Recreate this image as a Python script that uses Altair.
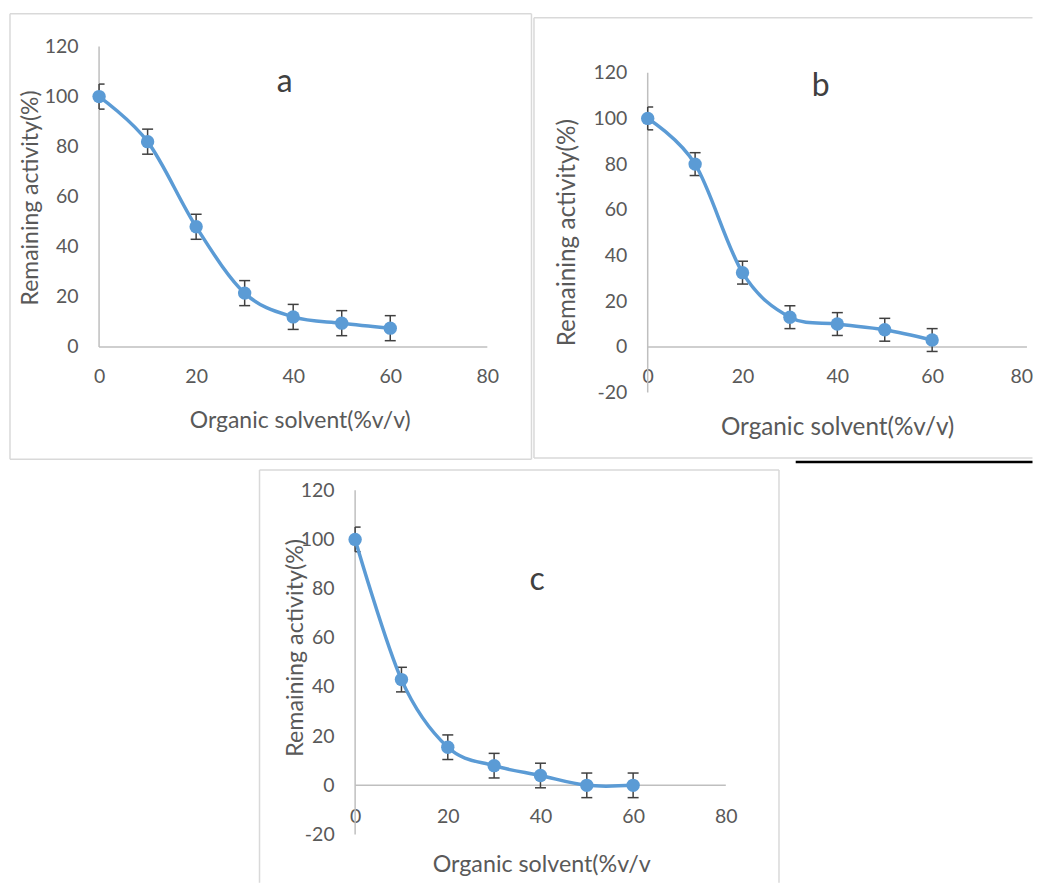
import altair as alt
import pandas as pd

# ---------------- data ----------------
solvent = [0, 10, 20, 30, 40, 50, 60]
activity_a = [100, 82, 48, 21.5, 12, 9.5, 7.5]
activity_b = [100, 80, 32.5, 13, 10, 7.5, 3]
activity_c = [100, 43, 15.5, 8, 4, 0, 0]
error_a = [5, 5, 5, 5, 5, 5, 5]
error_b = [5, 5, 5, 5, 5, 5, 5]
error_c = [5, 5, 5, 5, 5, 5, 5]
x_ticks = [0, 20, 40, 60, 80]
y_ticks_a = [0, 20, 40, 60, 80, 100, 120]
y_ticks_bc = [-20, 0, 20, 40, 60, 80, 100, 120]
x_axis_range = [0, 80]
y_axis_range_a = [0, 120]
y_axis_range_bc = [-20, 120]
panel_letters = ["a", "b", "c"]
x_titles = ["Organic solvent(%v/v)", "Organic solvent(%v/v)", "Organic solvent(%v/v"]
y_title = "Remaining activity(%)"

# ---------------- styles ----------------
FONT = "Lato"
BLUE = "#5B9BD5"
TXT = "#595959"
AXIS_GREY = "#BFBFBF"
FRAME_GREY = "#D9D9D9"
ERR = "#404040"
CAP_HALF_PX = 5.5

# ---------------- layout (page pixels) ----------------
GEOM = {
    "a": dict(L=9.75, T=12.75, W=522.5, H=446.25, x0=99.0, x80=488.0, y0=346.5, y120=45.5,
              xlab=376.0, xtitle=(300.0, 420.0), ytitle=(30.0, 196.7), letter=(285.0, 90.7),
              tsize=23.0, ftop=0.0, edges=("top", "bottom", "left", "right"), flush=None),
    "b": dict(L=533.75, T=12.0, W=499.5, H=445.0, x0=647.7, x80=1027.7, y0=345.7, y120=71.0,
              xlab=375.0, xtitle=(837.5, 426.7), ytitle=(567.7, 230.8), letter=(821.0, 94.0),
              tsize=24.3, ftop=4.0, edges=("top", "bottom", "left"), flush=7),
    "c": dict(L=258.5, T=468.0, W=520.5, H=413.5, x0=354.3, x80=725.7, y0=784.0, y120=488.3,
              xlab=815.0, xtitle=(540.8, 863.3), ytitle=(294.3, 645.8), letter=(536.7, 588.3),
              tsize=23.3, ftop=0.0, edges=("top", "left", "right"), flush=None),
}
SPACER_W = 248.75

one = pd.DataFrame({"k": [0]})


def hrule(x1, x2, y, color, w):
    return alt.Chart(one).mark_rule(color=color, strokeWidth=w).encode(
        x=alt.value(x1), x2=alt.value(x2), y=alt.value(y))


def vrule(x, y1, y2, color, w):
    return alt.Chart(one).mark_rule(color=color, strokeWidth=w).encode(
        x=alt.value(x), y=alt.value(y1), y2=alt.value(y2))


def panel(key, vals, errs, yticks, yrange, letter, xtitle, extra=None):
    g = GEOM[key]
    L, T, W, H = g["L"], g["T"], g["W"], g["H"]
    x0v, x80v = g["x0"] - L, g["x80"] - L
    y0v, y120v = g["y0"] - T, g["y120"] - T
    sx = (x80v - x0v) / 80.0
    sy = (y0v - y120v) / 120.0
    xdom = [-x0v / sx, (W - x0v) / sx]
    ydom = [(y0v - H) / sy, y0v / sy]
    xs = alt.Scale(domain=xdom, nice=False, zero=False)
    ys = alt.Scale(domain=ydom, nice=False, zero=False)

    if g["flush"] is not None:
        flush_kw = dict(labelFlush=g["flush"], labelFlushOffset=W - x80v)
    else:
        flush_kw = dict(labelFlush=False)

    xaxis = alt.Axis(
        values=x_ticks, orient="bottom", offset=-(H - (g["xlab"] - T)),
        domain=False, ticks=False, tickSize=0, grid=False,
        labelPadding=0, labelBaseline="middle", labelOverlap=False,
        labelFont=FONT, labelFontSize=19.5, labelColor=TXT,
        title=xtitle, titleFont=FONT, titleFontSize=g["tsize"], titleFontWeight="normal",
        titleColor=TXT, titleX=g["xtitle"][0] - L, titleY=g["xtitle"][1] - g["xlab"],
        titleBaseline="middle", titleAlign="center", **flush_kw)
    yaxis = alt.Axis(
        values=yticks, orient="left", offset=-x0v,
        domain=False, ticks=False, tickSize=0, grid=False,
        labelPadding=21, labelFlush=False, labelOverlap=False,
        labelExpr="'' + datum.value",
        labelFont=FONT, labelFontSize=19.5, labelColor=TXT,
        title=y_title, titleFont=FONT, titleFontSize=g["tsize"], titleFontWeight="normal",
        titleColor=TXT, titleAngle=270, titleX=g["ytitle"][0] - L - x0v,
        titleY=g["ytitle"][1] - T, titleBaseline="middle", titleAlign="center")

    def X(f):
        return alt.X(f, type="quantitative", scale=xs, axis=xaxis)

    def Y(f):
        return alt.Y(f, type="quantitative", scale=ys, axis=yaxis)

    d = CAP_HALF_PX / sx
    df = pd.DataFrame({
        "x": solvent, "y": vals,
        "lo": [v - e for v, e in zip(vals, errs)],
        "hi": [v + e for v, e in zip(vals, errs)],
        # caps are clipped at the plot-area edge (x = 0) as in the original
        "cl": [max(s - d, x_axis_range[0]) for s in solvent],
        "cr": [s + d for s in solvent],
    })
    ydf = pd.DataFrame({"x": [0], "y": [yrange[0]], "y2": [yrange[1]]})
    xdf = pd.DataFrame({"x": [x_axis_range[0]], "x2": [x_axis_range[1]], "y": [0]})

    layers = []
    fw = 1.5
    if "top" in g["edges"]:
        layers.append(hrule(0, W, g["ftop"], FRAME_GREY, fw))
    if "bottom" in g["edges"]:
        layers.append(hrule(0, W, H, FRAME_GREY, fw))
    if "left" in g["edges"]:
        layers.append(vrule(0, g["ftop"], H, FRAME_GREY, fw))
    if "right" in g["edges"]:
        layers.append(vrule(W, g["ftop"], H, FRAME_GREY, fw))

    layers.append(alt.Chart(ydf).mark_rule(color=AXIS_GREY, strokeWidth=1.5).encode(
        x=X("x"), y=Y("y"), y2="y2"))
    layers.append(alt.Chart(xdf).mark_rule(color=AXIS_GREY, strokeWidth=1.5).encode(
        x=X("x"), x2="x2", y=Y("y")))

    base = alt.Chart(df)
    layers.append(base.mark_rule(color=ERR, strokeWidth=1.5).encode(x=X("x"), y=Y("lo"), y2="hi"))
    layers.append(base.mark_rule(color=ERR, strokeWidth=1.5).encode(x=X("cl"), x2="cr", y=Y("lo")))
    layers.append(base.mark_rule(color=ERR, strokeWidth=1.5).encode(x=X("cl"), x2="cr", y=Y("hi")))
    layers.append(base.mark_line(interpolate="cardinal", color=BLUE, strokeWidth=3.5).encode(
        x=X("x"), y=Y("y")))
    layers.append(base.mark_circle(size=180, color=BLUE, opacity=1).encode(x=X("x"), y=Y("y")))

    lx, ly = g["letter"]
    layers.append(alt.Chart(pd.DataFrame({"t": [letter]})).mark_text(
        font=FONT, fontSize=32, color=ERR, align="center", baseline="alphabetic").encode(
        text="t:N", x=alt.value(lx - L), y=alt.value(ly - T)))

    if extra is not None:
        layers.extend(extra(W, H, L, T))

    return alt.layer(*layers).properties(width=W, height=H)


def black_line(W, H, L, T):
    return [hrule(796 - L, W, 461 - T, "#000000", 2.5)]


pa = panel("a", activity_a, error_a, y_ticks_a, y_axis_range_a, panel_letters[0], x_titles[0])
pb = panel("b", activity_b, error_b, y_ticks_bc, y_axis_range_bc, panel_letters[1], x_titles[1],
           extra=black_line)
pc = panel("c", activity_c, error_c, y_ticks_bc, y_axis_range_bc, panel_letters[2], x_titles[2])

spacer = alt.Chart(one).mark_rule(opacity=0).encode(
    x=alt.value(1), x2=alt.value(2), y=alt.value(2)).properties(width=SPACER_W, height=10)

row1 = alt.hconcat(pa, pb, spacing=0)
row2 = alt.hconcat(spacer, pc, spacing=0)

chart = (
    alt.vconcat(row1, row2, spacing=5)
    .properties(padding={"left": 1, "top": 4, "right": 0, "bottom": 0}, background="white")
    .configure(font=FONT)
    .configure_view(stroke="transparent", strokeWidth=0)
)

chart.save("out.html", embed_options={"renderer": "svg", "actions": False})
